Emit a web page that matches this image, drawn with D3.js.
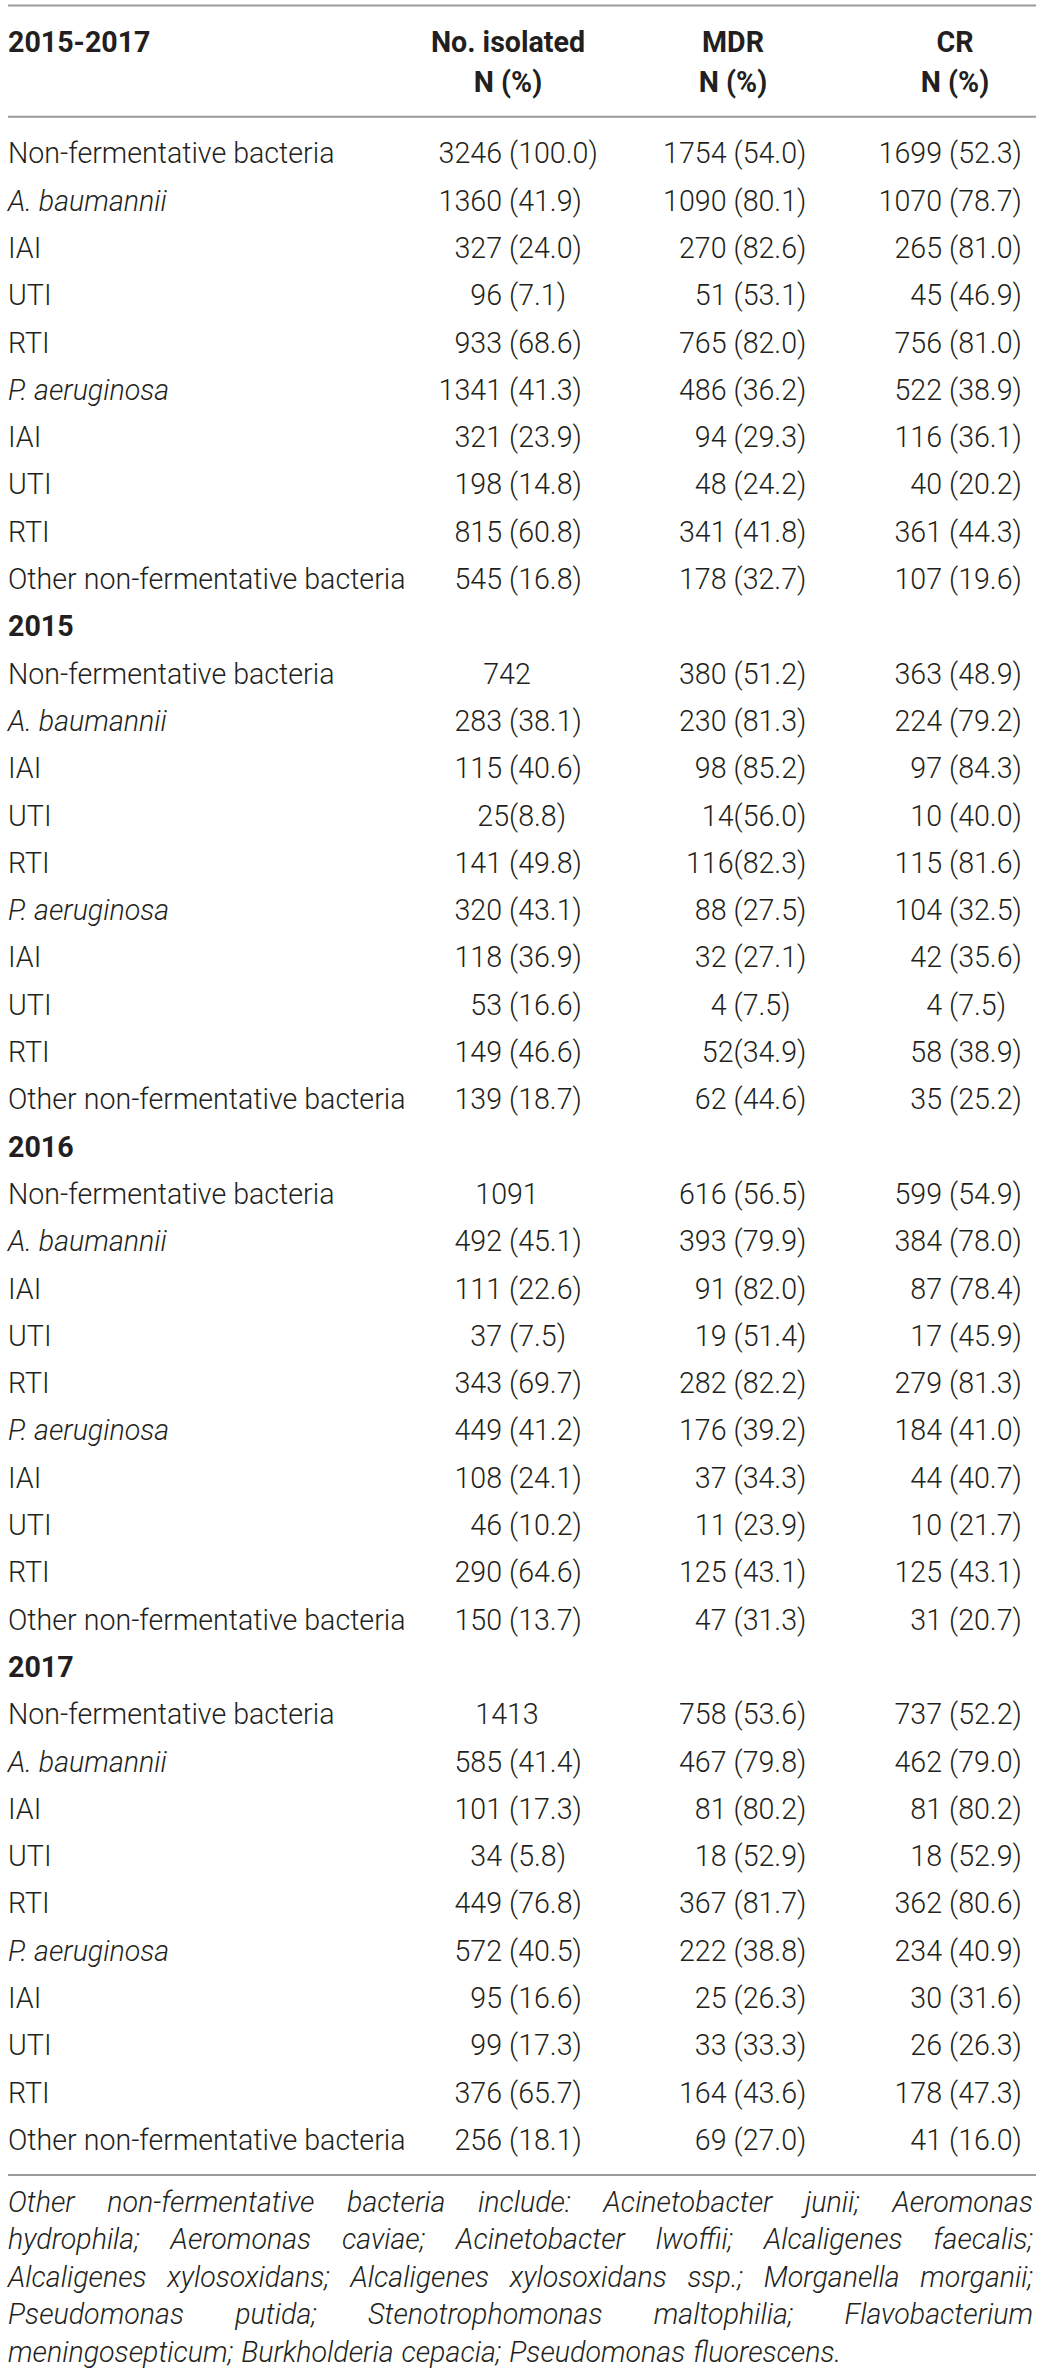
<!DOCTYPE html>
<html>
<head>
<meta charset="utf-8">
<script src="https://cdn.jsdelivr.net/npm/d3@7"></script>
<style>
  body{margin:0;background:#fff}
  text{font-family:Roboto,"Liberation Sans",Arial,sans-serif;fill:#231f20}
</style>
</head>
<body>
<div id="tableDiv"></div>
<script>
//Column headers
const headLabel = "2015-2017"
const colTitles = ["No. isolated","MDR","CR"]
const colSub = "N (%)"
//Year blocks after the pooled block
const years = ["2015","2016","2017"]
//Row labels repeated in each block, rows 1 and 5 are species names (italic)
const rowLabels = ["Non-fermentative bacteria","A. baumannii","IAI","UTI","RTI",
    "P. aeruginosa","IAI","UTI","RTI","Other non-fermentative bacteria"]
const italicRows = [1,5]

//2015-2017
const isoAll = ["3246 (100.0)","1360 (41.9)","327 (24.0)","96 (7.1)","933 (68.6)","1341 (41.3)","321 (23.9)","198 (14.8)","815 (60.8)","545 (16.8)"]
const mdrAll = ["1754 (54.0)","1090 (80.1)","270 (82.6)","51 (53.1)","765 (82.0)","486 (36.2)","94 (29.3)","48 (24.2)","341 (41.8)","178 (32.7)"]
const crAll  = ["1699 (52.3)","1070 (78.7)","265 (81.0)","45 (46.9)","756 (81.0)","522 (38.9)","116 (36.1)","40 (20.2)","361 (44.3)","107 (19.6)"]
//2015
const iso2015 = ["742","283 (38.1)","115 (40.6)","25(8.8)","141 (49.8)","320 (43.1)","118 (36.9)","53 (16.6)","149 (46.6)","139 (18.7)"]
const mdr2015 = ["380 (51.2)","230 (81.3)","98 (85.2)","14(56.0)","116(82.3)","88 (27.5)","32 (27.1)","4 (7.5)","52(34.9)","62 (44.6)"]
const cr2015  = ["363 (48.9)","224 (79.2)","97 (84.3)","10 (40.0)","115 (81.6)","104 (32.5)","42 (35.6)","4 (7.5)","58 (38.9)","35 (25.2)"]
//2016
const iso2016 = ["1091","492 (45.1)","111 (22.6)","37 (7.5)","343 (69.7)","449 (41.2)","108 (24.1)","46 (10.2)","290 (64.6)","150 (13.7)"]
const mdr2016 = ["616 (56.5)","393 (79.9)","91 (82.0)","19 (51.4)","282 (82.2)","176 (39.2)","37 (34.3)","11 (23.9)","125 (43.1)","47 (31.3)"]
const cr2016  = ["599 (54.9)","384 (78.0)","87 (78.4)","17 (45.9)","279 (81.3)","184 (41.0)","44 (40.7)","10 (21.7)","125 (43.1)","31 (20.7)"]
//2017
const iso2017 = ["1413","585 (41.4)","101 (17.3)","34 (5.8)","449 (76.8)","572 (40.5)","95 (16.6)","99 (17.3)","376 (65.7)","256 (18.1)"]
const mdr2017 = ["758 (53.6)","467 (79.8)","81 (80.2)","18 (52.9)","367 (81.7)","222 (38.8)","25 (26.3)","33 (33.3)","164 (43.6)","69 (27.0)"]
const cr2017  = ["737 (52.2)","462 (79.0)","81 (80.2)","18 (52.9)","362 (80.6)","234 (40.9)","30 (31.6)","26 (26.3)","178 (47.3)","41 (16.0)"]

//Footnote, one entry per printed line
const footLines = [
    "Other non-fermentative bacteria include: Acinetobacter junii; Aeromonas",
    "hydrophila; Aeromonas caviae; Acinetobacter lwoffii; Alcaligenes faecalis;",
    "Alcaligenes xylosoxidans; Alcaligenes xylosoxidans ssp.; Morganella morganii;",
    "Pseudomonas putida; Stenotrophomonas maltophilia; Flavobacterium",
    "meningosepticum; Burkholderia cepacia; Pseudomonas fluorescens."
]

const width = 1042, height = 2373
const fontSize = 28.6
const left = 8, right = 1036, textRight = 1033

//Build the flat list of table rows
const blocks = [
    {year:null, cols:[isoAll, mdrAll, crAll]},
    {year:years[0], cols:[iso2015, mdr2015, cr2015]},
    {year:years[1], cols:[iso2016, mdr2016, cr2016]},
    {year:years[2], cols:[iso2017, mdr2017, cr2017]}
]
const rows = []
blocks.forEach(b=>{
    if(b.year) rows.push({type:'year', label:b.year})
    rowLabels.forEach((lab,i)=>{
        rows.push({type:'data', label:lab, italic:italicRows.includes(i), vals:b.cols.map(c=>c[i])})
    })
})

//Row scale (baselines) and column anchor scale (position of the "(")
const yScale = d3.scaleLinear().domain([0, rows.length-1]).range([163.3, 163.3 + 47.3*(rows.length-1)])
const colScale = d3.scaleOrdinal().domain([0,1,2]).range([509, 733.5, 949])
const headScale = d3.scaleOrdinal().domain([0,1,2]).range([508, 733, 955])

const svg = d3.select('#tableDiv').append('svg')
    .attr('width', width).attr('height', height)

//Rules
const rules = [5.5, 116.7, 2175]
svg.selectAll('line.rule').data(rules).enter().append('line')
    .attr('class','rule')
    .attr('x1', left).attr('x2', right)
    .attr('y1', d=>d).attr('y2', d=>d)
    .attr('stroke', '#9a9a9a').attr('stroke-width', 2)

//Header
svg.append('text').attr('x', left).attr('y', 51.7)
    .attr('font-size', fontSize).attr('font-weight', 700).text(headLabel)
colTitles.forEach((t,i)=>{
    svg.append('text').attr('x', headScale(i)).attr('y', 51.7).attr('text-anchor','middle')
        .attr('font-size', fontSize).attr('font-weight', 700).text(t)
    svg.append('text').attr('x', headScale(i)).attr('y', 92).attr('text-anchor','middle')
        .attr('font-size', fontSize).attr('font-weight', 700).text(colSub)
})

//Body rows
const rowG = svg.selectAll('g.row').data(rows).enter().append('g')
    .attr('class','row')
    .attr('transform', (d,i)=>`translate(0,${yScale(i)})`)

rowG.append('text')
    .attr('x', left)
    .attr('font-size', fontSize)
    .attr('font-weight', d=> d.type=='year' ? 700 : 300)
    .attr('font-style', d=> d.italic ? 'italic' : 'normal')
    .text(d=>d.label)

rowG.filter(d=>d.type=='data').each(function(d){
    const g = d3.select(this)
    d.vals.forEach((v,ci)=>{
        const ax = colScale(ci)
        const p = v.indexOf('(')
        if(p < 0){
            //plain count, centred on the column
            g.append('text').attr('x', ax - 2).attr('text-anchor','middle')
                .attr('font-size', fontSize).attr('font-weight', 300).text(v)
        } else {
            //split on the "(" so the brackets line up
            const num = v.slice(0,p)
            g.append('text').attr('x', ax).attr('text-anchor','end')
                .attr('font-size', fontSize).attr('font-weight', 300)
                .attr('xml:space','preserve').style('white-space','pre').text(num)
            g.append('text').attr('x', ax).attr('text-anchor','start')
                .attr('font-size', fontSize).attr('font-weight', 300).text(v.slice(p))
        }
    })
})

//Footnote, justified except the last line
const footG = svg.append('g')
footLines.forEach((line,li)=>{
    const y = 2211.7 + 37.5*li
    const words = line.split(' ')
    const ws = words.map(w=>{
        const t = footG.append('text').attr('x', 0).attr('y', y)
            .attr('font-size', fontSize).attr('font-weight', 300).attr('font-style','italic').text(w)
        return {node:t, w:t.node().getComputedTextLength()}
    })
    const total = d3.sum(ws, d=>d.w)
    const last = li == footLines.length-1
    const spaceW = fontSize*0.278
    const gap = last ? spaceW : (textRight - left - total)/(words.length-1)
    let x = left
    ws.forEach(d=>{
        d.node.attr('x', x)
        x += d.w + gap
    })
})
</script>
</body>
</html>
